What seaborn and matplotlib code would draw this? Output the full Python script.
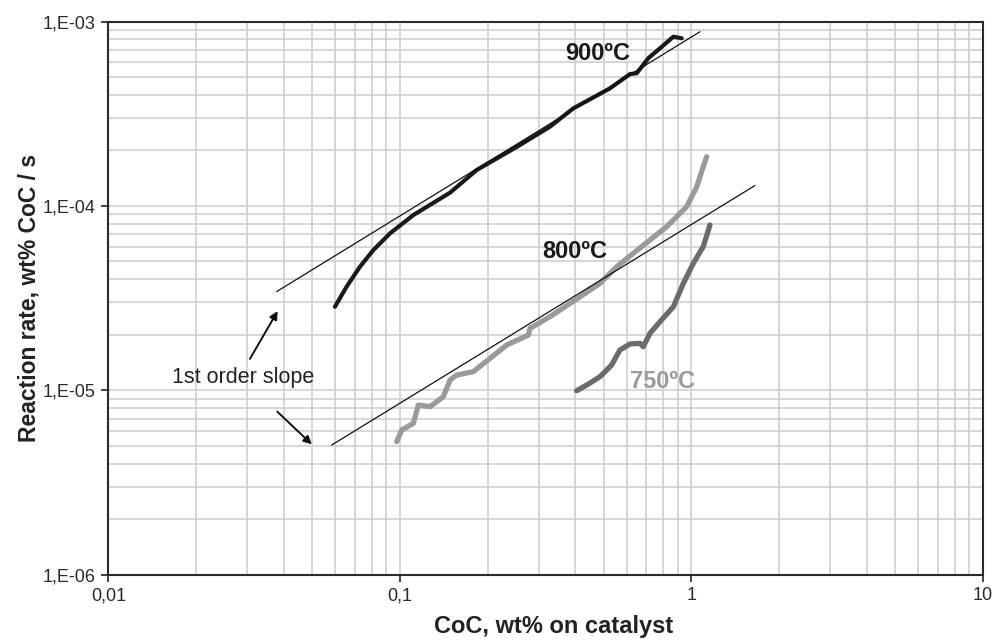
import numpy as np
import pandas as pd
import matplotlib
matplotlib.use("Agg")
import matplotlib.pyplot as plt
import matplotlib.ticker as mticker
import seaborn as sns

# ---- data ----
x_900 = [0.0599, 0.0657, 0.0730, 0.0811, 0.0926, 0.1113, 0.1487, 0.1836, 0.252, 0.3276,
         0.3937, 0.526, 0.6163, 0.6497, 0.712, 0.781, 0.868, 0.927]
y_900 = [2.84e-5, 3.65e-5, 4.68e-5, 5.76e-5, 7.10e-5, 8.92e-5, 1.18e-4, 1.565e-4, 2.09e-4, 2.69e-4,
         3.38e-4, 4.34e-4, 5.19e-4, 5.24e-4, 6.32e-4, 7.16e-4, 8.27e-4, 8.11e-4]

x_800 = [0.0976, 0.1015, 0.1113, 0.1157, 0.1270, 0.141, 0.1487, 0.1567, 0.1787, 0.2039,
         0.2326, 0.276, 0.2798, 0.3276, 0.3836, 0.486, 0.5547, 0.6324, 0.823, 0.964,
         1.044, 1.099, 1.129]
y_800 = [5.27e-6, 6.09e-6, 6.62e-6, 8.32e-6, 8.15e-6, 9.23e-6, 1.137e-5, 1.21e-5, 1.262e-5, 1.49e-5,
         1.76e-5, 1.995e-5, 2.17e-5, 2.51e-5, 2.96e-5, 3.80e-5, 4.68e-5, 5.53e-5, 7.71e-5, 9.90e-5,
         1.271e-4, 1.632e-4, 1.848e-4]

x_750 = [0.4045, 0.4378, 0.486, 0.533, 0.569, 0.6163, 0.667, 0.684, 0.7218, 0.781,
         0.868, 0.939, 1.016, 1.099, 1.159]
y_750 = [9.95e-6, 1.068e-5, 1.185e-5, 1.372e-5, 1.654e-5, 1.783e-5, 1.799e-5, 1.724e-5, 2.04e-5, 2.355e-5,
         2.84e-5, 3.80e-5, 4.88e-5, 6.01e-5, 7.88e-5]

fit_900_x = [0.0378, 1.071]
fit_900_y = [3.43e-5, 8.8e-4]
fit_800_x = [0.0584, 1.654]
fit_800_y = [5.05e-6, 1.29e-4]

x_ticks = [0.01, 0.1, 1, 10]
x_tick_labels = ["0,01", "0,1", "1", "10"]
y_ticks = [1e-6, 1e-5, 1e-4, 1e-3]
y_tick_labels = ["1,E-06", "1,E-05", "1,E-04", "1,E-03"]

# ---- styling ----
sns.set_style("white")
plt.rcParams['font.family'] = ['Liberation Sans', 'DejaVu Sans']

fig = plt.figure(figsize=(9.92, 6.4), dpi=100)
ax = fig.add_axes([0.1092, 0.102, 0.8815, 0.8644])
ax.set_xscale("log")
ax.set_yscale("log")
ax.set_xlim(0.01, 10)
ax.set_ylim(1e-6, 1e-3)

ax.grid(True, which="both", color="#cfcfcf", linewidth=1.2, zorder=0)
ax.set_axisbelow(True)

def draw(xs, ys, color, lw, zorder=3):
    df = pd.DataFrame({"x": xs, "y": ys})
    sns.lineplot(data=df, x="x", y="y", sort=False, color=color, linewidth=lw,
                 ax=ax, zorder=zorder, estimator=None)

draw(fit_900_x, fit_900_y, "#111111", 0.9, 4)
draw(fit_800_x, fit_800_y, "#111111", 0.9, 4)
draw(x_800, y_800, "#9a9a9a", 3.8)
draw(x_750, y_750, "#6b6b6b", 3.8)
draw(x_900, y_900, "#1a1a1a", 3.0)

ax.set_xticks(x_ticks)
ax.set_xticklabels(x_tick_labels)
ax.set_yticks(y_ticks)
ax.set_yticklabels(y_tick_labels)
ax.xaxis.set_minor_formatter(mticker.NullFormatter())
ax.yaxis.set_minor_formatter(mticker.NullFormatter())
ax.tick_params(which="major", direction="out", length=5, width=1.2, color="#222222",
               labelsize=13, labelcolor="#2a2a2a", pad=4, bottom=True, left=True)
ax.tick_params(which="minor", length=0)

for s in ax.spines.values():
    s.set_color("#2a2a2a")
    s.set_linewidth(1.5)

ax.set_xlabel("CoC, wt% on catalyst", fontsize=17, fontweight="bold", color="#222222")
ax.xaxis.set_label_coords(0.5097, -0.072)
ax.set_ylabel("Reaction rate, wt% CoC / s", fontsize=16.5, fontweight="bold", color="#222222", labelpad=2)

ax.text(0.369, 6.74e-4, "900ºC", fontsize=17, fontweight="bold", color="#1a1a1a", ha="left", va="center")
ax.text(0.307, 5.65e-5, "800ºC", fontsize=17, fontweight="bold", color="#1a1a1a", ha="left", va="center")
ax.text(0.616, 1.114e-5, "750ºC", fontsize=17, fontweight="bold", color="#9a9a9a", ha="left", va="center")

ax.text(0.029, 1.18e-5, "1st order slope", fontsize=15.5, color="#222222", ha="center", va="center")
ax.annotate("", xy=(0.0381, 2.69e-5), xytext=(0.0306, 1.48e-5),
            arrowprops=dict(arrowstyle="-|>", color="#111111", lw=1.4, mutation_scale=12,
                            shrinkA=0, shrinkB=0))
ax.annotate("", xy=(0.0499, 5.09e-6), xytext=(0.038, 7.66e-6),
            arrowprops=dict(arrowstyle="-|>", color="#111111", lw=1.4, mutation_scale=12,
                            shrinkA=0, shrinkB=0))

fig.savefig("out.png", dpi=100)
